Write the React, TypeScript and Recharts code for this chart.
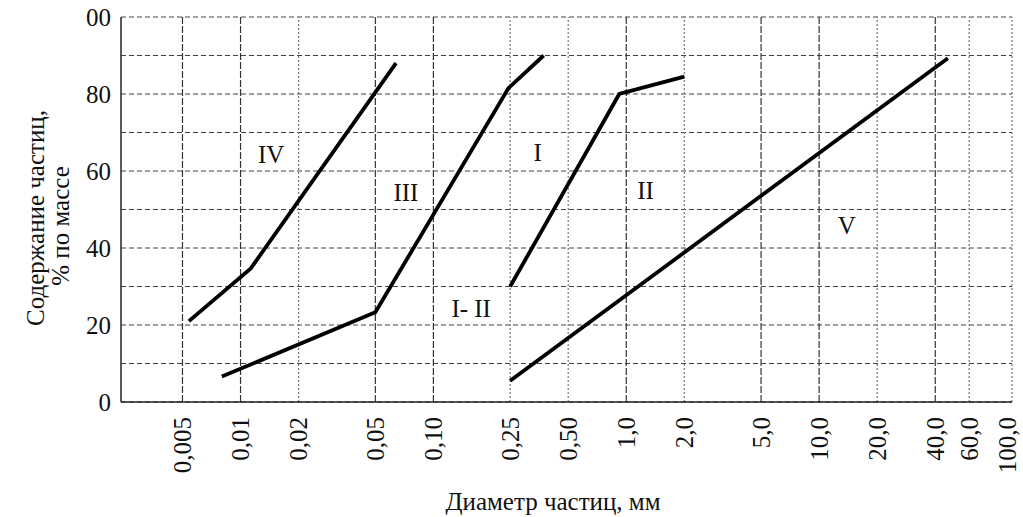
import React from 'react';
import {
  LineChart,
  Line,
  XAxis,
  YAxis,
  CartesianGrid,
  ReferenceLine,
  ReferenceDot,
} from 'recharts';

// particle diameter, mm (log axis)
const xTicks = [0.005, 0.01, 0.02, 0.05, 0.1, 0.25, 0.5, 1, 2, 5, 10, 20, 40, 60, 100];
const xTickLabels = ['0,005', '0,01', '0,02', '0,05', '0,10', '0,25', '0,50', '1,0', '2,0', '5,0', '10,0', '20,0', '40,0', '60,0', '100,0'];
const darkXLines = [0.005, 0.01, 0.05, 0.1, 1, 5, 10, 40];

// content, % by mass
const yTicks = [0, 10, 20, 30, 40, 50, 60, 70, 80, 90, 100];
const yLabelValues = [0, 20, 40, 60, 80, 100];
const yLabelTexts = ['0', '20', '40', '60', '80', '00'];

const curveIVx = [0.0054, 0.0113, 0.064];
const curveIVy = [21, 34.7, 88];
const curveIIIx = [0.008, 0.05, 0.245, 0.373];
const curveIIIy = [6.6, 23.3, 81.5, 90];
const curveIIx = [0.25, 0.92, 2.0];
const curveIIy = [30, 80, 84.5];
const curveVx = [0.25, 46.5];
const curveVy = [5.5, 89.3];

const curveNames = ['IV', 'III', 'I', 'II', 'V', 'I- II'];
const curveNameX = [0.0144, 0.072, 0.347, 1.26, 13.9, 0.157];
const curveNameY = [64.5, 54.5, 65, 55, 46, 24.5];

const FONT = '"Liberation Serif", "DejaVu Serif", serif';

const toPoints = (xs: number[], ys: number[]) => xs.map((x, i) => ({ x, y: ys[i] }));

const XTick = (props: any) => {
  const { x, y, payload } = props;
  const i = xTicks.indexOf(payload.value);
  // last label sits on the right edge, nudge it in so the comma is not clipped
  const nudge = i === xTicks.length - 1 ? -5 : 0;
  return (
    <g transform={`translate(${x + nudge},${y})`}>
      <text
        transform="rotate(-90)"
        x={-15}
        y={0}
        dy="0.35em"
        textAnchor="end"
        fill="#111"
        fontSize={25}
        fontFamily={FONT}
      >
        {i >= 0 ? xTickLabels[i] : ''}
      </text>
    </g>
  );
};

const YTitle = () => (
  <g fontFamily={FONT} fontSize={25} fill="#111">
    <text transform="translate(44,218) rotate(-90)" textAnchor="middle">
      Содержание частиц,
    </text>
    <text transform="translate(69,226) rotate(-90)" textAnchor="middle">
      % по массе
    </text>
  </g>
);

const XTitle = () => (
  <text x={553} y={510} textAnchor="middle" fontFamily={FONT} fontSize={25} fill="#111">
    Диаметр частиц, мм
  </text>
);

const App: React.FC = () => {
  const series = [
    toPoints(curveIVx, curveIVy),
    toPoints(curveIIIx, curveIIIy),
    toPoints(curveIIx, curveIIy),
    toPoints(curveVx, curveVy),
  ];

  return (
    <div style={{ position: 'absolute', left: 0, top: 0, width: 1023, height: 517, background: '#fff' }}>
      <LineChart width={1023} height={517} margin={{ top: 17, right: 11, bottom: 0, left: 0 }}>
        <CartesianGrid vertical={false} stroke="#444" strokeDasharray="5 3" />
        {xTicks.map((t) => (
          <ReferenceLine
            key={t}
            x={t}
            stroke={darkXLines.includes(t) ? '#333' : '#777'}
            strokeDasharray={darkXLines.includes(t) ? '7 2' : '2 2'}
            strokeWidth={1.2}
          />
        ))}
        <XAxis
          dataKey="x"
          type="number"
          scale="log"
          domain={[0.0024, 100]}
          ticks={xTicks}
          interval={0}
          allowDataOverflow
          tick={<XTick />}
          tickLine={false}
          tickSize={0}
          tickMargin={0}
          axisLine={{ stroke: '#222', strokeWidth: 1.5 }}
          height={115}
          label={<XTitle />}
        />
        <YAxis
          type="number"
          domain={[0, 100]}
          ticks={yTicks}
          interval={0}
          width={121}
          tickLine={false}
          tickSize={0}
          tickMargin={10}
          axisLine={{ stroke: '#222', strokeWidth: 1.5 }}
          tick={{ fill: '#111', fontSize: 25, fontFamily: FONT }}
          tickFormatter={(v: number) => {
            const i = yLabelValues.indexOf(v);
            return i >= 0 ? yLabelTexts[i] : '';
          }}
          label={<YTitle />}
        />
        {series.map((d, i) => (
          <Line
            key={i}
            data={d}
            dataKey="y"
            type="linear"
            stroke="#000"
            strokeWidth={3.8}
            dot={false}
            activeDot={false}
            isAnimationActive={false}
          />
        ))}
        {curveNames.map((n, i) => (
          <ReferenceDot
            key={n}
            x={curveNameX[i]}
            y={curveNameY[i]}
            r={0}
            fill="none"
            stroke="none"
            label={{ value: n, position: 'center', fill: '#111', fontSize: 25, fontFamily: FONT }}
          />
        ))}
      </LineChart>
    </div>
  );
};

export default App;
